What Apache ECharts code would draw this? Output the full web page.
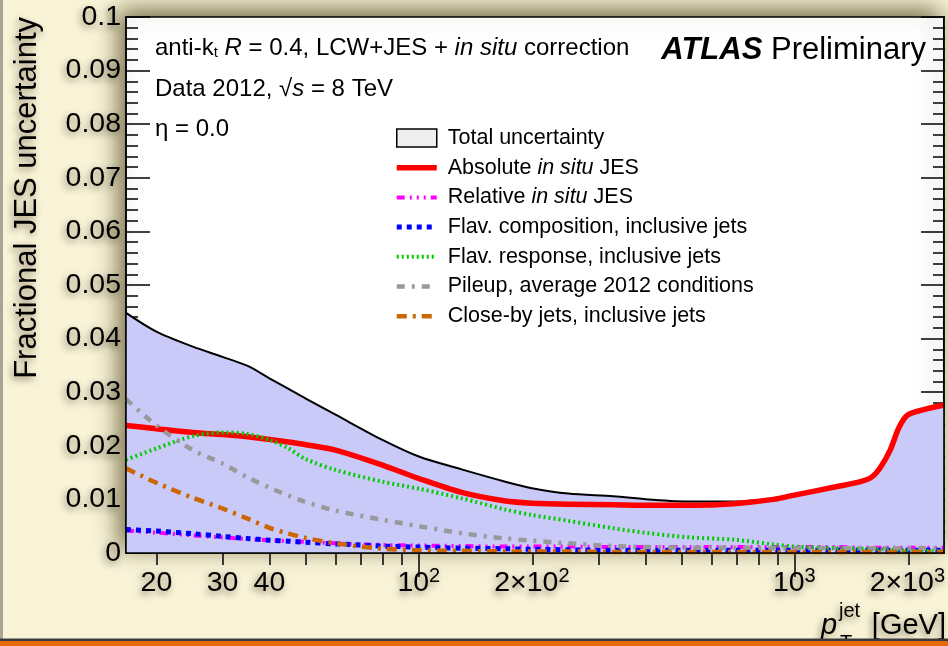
<!DOCTYPE html>
<html>
<head>
<meta charset="utf-8">
<script src="https://cdn.jsdelivr.net/npm/echarts@6/dist/echarts.min.js"></script>
<style>
  html, body { margin: 0; padding: 0; background: #f9f4d8; }
  #chart { width: 948px; height: 646px; }
</style>
</head>
<body>
<div id="chart"></div>
<script>
// Jet pT grid (GeV) shared by all uncertainty components
const pt = [16.6, 20, 25, 30, 35, 40, 45, 50, 60, 80, 100, 130, 170, 200, 250, 330, 410, 530, 690, 880, 1000, 1300, 1500, 1610, 1700, 1800, 1900, 2000, 2200, 2500];

const totalUnc   = [0.0448, 0.0413, 0.0385, 0.0366, 0.0349, 0.0326, 0.0306, 0.0288, 0.0258, 0.0211, 0.0180, 0.0156, 0.0133, 0.0121, 0.0111, 0.0106, 0.0100, 0.0096, 0.0096, 0.0102, 0.0109, 0.0125, 0.0134, 0.0143, 0.0162, 0.0193, 0.0235, 0.0258, 0.0268, 0.0278];
const absInSitu  = [0.0238, 0.0232, 0.0225, 0.0221, 0.0217, 0.0212, 0.0207, 0.0202, 0.0192, 0.0164, 0.0139, 0.0113, 0.0097, 0.0093, 0.0091, 0.0090, 0.0089, 0.0089, 0.0092, 0.0100, 0.0108, 0.0124, 0.0133, 0.0142, 0.0161, 0.0192, 0.0234, 0.0257, 0.0267, 0.0276];
const relInSitu  = [0.0042, 0.0038, 0.0033, 0.0029, 0.0026, 0.0024, 0.0022, 0.0021, 0.0018, 0.0015, 0.0014, 0.0013, 0.0012, 0.0012, 0.0012, 0.0011, 0.0011, 0.0011, 0.0011, 0.0011, 0.0011, 0.0011, 0.0010, 0.0010, 0.0010, 0.0010, 0.0010, 0.0010, 0.0010, 0.0010];
const flavComp   = [0.0044, 0.0041, 0.0036, 0.0031, 0.0027, 0.0024, 0.0022, 0.0020, 0.0017, 0.0013, 0.0011, 0.0009, 0.0008, 0.0007, 0.0006, 0.0005, 0.0005, 0.0005, 0.0005, 0.0005, 0.0005, 0.0005, 0.0005, 0.0005, 0.0005, 0.0005, 0.0005, 0.0005, 0.0005, 0.0005];
const flavResp   = [0.0174, 0.0195, 0.0218, 0.0225, 0.0222, 0.0211, 0.0195, 0.0175, 0.0155, 0.0133, 0.0120, 0.0102, 0.0081, 0.0071, 0.0060, 0.0046, 0.0037, 0.0029, 0.0025, 0.0016, 0.0012, 0.0009, 0.0008, 0.0007, 0.0007, 0.0006, 0.0006, 0.0005, 0.0004, 0.0003];
const pileup     = [0.0287, 0.0238, 0.0192, 0.0167, 0.0141, 0.0122, 0.0107, 0.0095, 0.0079, 0.0062, 0.0050, 0.0037, 0.0027, 0.0023, 0.0018, 0.0013, 0.0011, 0.0010, 0.0010, 0.0009, 0.0009, 0.0009, 0.0009, 0.0009, 0.0009, 0.0009, 0.0009, 0.0009, 0.0009, 0.0009];
const closeBy    = [0.0158, 0.0131, 0.0103, 0.0083, 0.0064, 0.0047, 0.0036, 0.0028, 0.0018, 0.0008, 0.0005, 0.0004, 0.0003, 0.0003, 0.0003, 0.0002, 0.0002, 0.0002, 0.0002, 0.0002, 0.0002, 0.0002, 0.0002, 0.0002, 0.0002, 0.0002, 0.0002, 0.0002, 0.0002, 0.0002];

const seriesNames = [
  'Total uncertainty',
  'Absolute in situ JES',
  'Relative in situ JES',
  'Flav. composition, inclusive jets',
  'Flav. response, inclusive jets',
  'Pileup, average 2012 conditions',
  'Close-by jets, inclusive jets'
];

// x tick labels (log axis), superscripts in rich-text tokens
const xTickValues = [20, 30, 40, 100, 200, 1000, 2000];
const xTickLabels = ['{b|20}', '{b|30}', '{b|40}', '{b|10}{s|2}', '{b|2×10}{s|2}', '{b|10}{s|3}', '{b|2×10}{s|3}'];
const xMajorTicks = [100, 1000];
const xMinorTicks = [20, 30, 40, 50, 60, 70, 80, 90, 200, 300, 400, 500, 600, 700, 800, 900, 2000];

const X_MIN = 16.6, X_MAX = 2500;
const FONT = 'Liberation Sans';
const shade = {
  textShadowColor: 'rgba(40,30,0,0.55)',
  textShadowBlur: 7,
  textShadowOffsetX: -2,
  textShadowOffsetY: 3
};

function pairs(vals) { return pt.map((p, i) => [p, vals[i]]); }

function lineSeries(name, vals, lineStyle, extra) {
  return Object.assign({
    name: name,
    type: 'line',
    data: pairs(vals),
    smooth: 0.3,
    symbol: 'none',
    showSymbol: false,
    silent: true,
    xAxisIndex: 0,
    yAxisIndex: 0,
    lineStyle: Object.assign({ cap: 'butt', join: 'round' }, lineStyle)
  }, extra || {});
}

const tickLine = { color: '#000', width: 1.5 };
const PLOT_BOX = { left: 126, right: 3, top: 17, bottom: 93 };
const logAxis = (gridIndex, position, extra) => Object.assign({
  type: 'log', logBase: 10, min: X_MIN, max: X_MAX, gridIndex: gridIndex, position: position,
  splitLine: { show: false }, axisLine: { show: false }, axisLabel: { show: false }, axisTick: { show: false }
}, extra);
const valAxis = (gridIndex, position, extra) => Object.assign({
  type: 'value', min: 0, max: 0.1, interval: 0.01, gridIndex: gridIndex, position: position,
  splitLine: { show: false }, axisLine: { show: false }, axisLabel: { show: false }, axisTick: { show: false }
}, extra);

const chart = echarts.init(document.getElementById('chart'));

chart.setOption({
  animation: false,
  backgroundColor: '#f9f4d8',
  grid: [
    Object.assign({
      show: true,
      backgroundColor: '#ffffff',
      borderColor: '#000',
      borderWidth: 1.5,
      shadowBlur: 22,
      shadowColor: 'rgba(70,60,20,0.75)',
      shadowOffsetX: -6,
      shadowOffsetY: -6
    }, PLOT_BOX),
    // second cartesian over the same box, carrying the fine tick marks
    Object.assign({ show: false }, PLOT_BOX)
  ],
  xAxis: [
    logAxis(0, 'bottom', {
      z: 5,
      axisLine: { show: true, lineStyle: tickLine },
      axisLabel: {
        show: true,
        customValues: xTickValues,
        margin: 13,
        formatter: function (v) {
          const i = xTickValues.findIndex(t => Math.abs(t - v) / t < 1e-6);
          return i >= 0 ? xTickLabels[i] : '';
        },
        rich: {
          b: Object.assign({ fontSize: 28.5, fontFamily: FONT, color: '#000', lineHeight: 34 }, shade),
          s: Object.assign({ fontSize: 20, fontFamily: FONT, color: '#000', lineHeight: 10, verticalAlign: 'top' }, shade)
        }
      }
    }),
    logAxis(0, 'top', {
      axisTick: { show: true, inside: true, length: 24, lineStyle: tickLine, customValues: xMajorTicks }
    }),
    logAxis(1, 'top', {
      axisTick: { show: true, inside: true, length: 12, lineStyle: tickLine, customValues: xMinorTicks }
    })
  ],
  yAxis: [
    valAxis(0, 'left', {
      z: 5,
      axisLine: { show: true, lineStyle: tickLine },
      axisLabel: Object.assign({ show: true, fontSize: 28.5, fontFamily: FONT, color: '#000', margin: 5 }, shade)
    }),
    valAxis(0, 'right', {
      z: 5,
      axisLine: { show: true, lineStyle: tickLine }
    }),
    valAxis(1, 'left', {
      axisTick: { show: true, inside: true, length: 24, lineStyle: tickLine },
      minorTick: { show: true, splitNumber: 5, length: 12, lineStyle: tickLine }
    }),
    valAxis(1, 'right', {
      axisTick: { show: true, inside: true, length: 24, lineStyle: tickLine },
      minorTick: { show: true, splitNumber: 5, length: 12, lineStyle: tickLine }
    })
  ],
  legend: {
    orient: 'vertical',
    left: 389, top: 122,
    itemWidth: 40, itemHeight: 18, itemGap: 7.7,
    selectedMode: false,
    itemStyle: { opacity: 0 },
    lineStyle: { width: 'inherit' },
    textStyle: {
      fontFamily: FONT, fontSize: 21.5, color: '#000', lineHeight: 18,
      rich: {
        g: { width: 6, fontSize: 21.5, lineHeight: 18 },
        n: { fontFamily: FONT, fontSize: 21.5, color: '#000', lineHeight: 18 },
        i: { fontFamily: FONT, fontSize: 21.5, color: '#000', lineHeight: 18, fontStyle: 'italic' }
      }
    },
    formatter: function (name) {
      const parts = name.split('in situ');
      return '{g| }' + parts.map(p => p ? '{n|' + p + '}' : '').join('{i|in situ}');
    },
    data: [
      { name: seriesNames[0], icon: 'rect', itemStyle: { color: '#eeeeee', borderColor: '#000', borderWidth: 1.5, opacity: 1 } },
      { name: seriesNames[1], lineStyle: { width: 5.5, type: 'solid' } },
      { name: seriesNames[2], lineStyle: { width: 4, type: [8, 5, 2, 5, 2, 5, 2, 5] } },
      { name: seriesNames[3], lineStyle: { width: 5, type: [5, 5] } },
      { name: seriesNames[4], lineStyle: { width: 4, type: [2, 3] } },
      { name: seriesNames[5], lineStyle: { width: 4.5, type: [8, 7, 3, 7] } },
      { name: seriesNames[6], lineStyle: { width: 4.5, type: [10, 6, 3, 6] } }
    ]
  },
  series: [
    lineSeries(seriesNames[0], totalUnc, { color: '#000', width: 2 }, {
      areaStyle: { color: '#cacaf8', opacity: 1 }, itemStyle: { color: '#eeeeee' }, z: 2
    }),
    lineSeries(seriesNames[1], absInSitu, { color: '#ff0000', width: 5.5 }, { itemStyle: { color: '#ff0000' }, z: 3 }),
    lineSeries(seriesNames[2], relInSitu, { color: '#ff00ff', width: 4, type: [8, 5, 2, 5, 2, 5, 2, 5] }, { itemStyle: { color: '#ff00ff' }, z: 3 }),
    lineSeries(seriesNames[3], flavComp, { color: '#0000ff', width: 5, type: [5, 5] }, { itemStyle: { color: '#0000ff' }, z: 3 }),
    lineSeries(seriesNames[4], flavResp, { color: '#00cc00', width: 4, type: [2, 3] }, { itemStyle: { color: '#00cc00' }, z: 3 }),
    lineSeries(seriesNames[5], pileup, { color: '#999999', width: 4.5, type: [8, 7, 3, 7] }, { itemStyle: { color: '#999999' }, z: 3 }),
    lineSeries(seriesNames[6], closeBy, { color: '#cc6600', width: 4.5, type: [10, 6, 3, 6] }, { itemStyle: { color: '#cc6600' }, z: 3 })
  ],
  graphic: [
    // header lines inside the frame
    {
      type: 'text', x: 155, y: 48.5, z: 10,
      style: {
        text: 'anti-k{sub|t} {i|R} = 0.4, LCW+JES + {i|in situ} correction',
        fontFamily: FONT, fontSize: 24, fill: '#000',
        align: 'left', verticalAlign: 'middle', textAlign: 'left', textVerticalAlign: 'middle',
        rich: {
          sub: { fontFamily: FONT, fontSize: 15, fill: '#000', verticalAlign: 'bottom', lineHeight: 12 },
          i: { fontFamily: FONT, fontSize: 24, fill: '#000', fontStyle: 'italic' }
        }
      }
    },
    {
      type: 'text', x: 155, y: 89, z: 10,
      style: {
        text: 'Data 2012, √{i|s} = 8 TeV',
        fontFamily: FONT, fontSize: 24, fill: '#000',
        align: 'left', verticalAlign: 'middle', textAlign: 'left', textVerticalAlign: 'middle',
        rich: { i: { fontFamily: FONT, fontSize: 24, fill: '#000', fontStyle: 'italic' } }
      }
    },
    {
      type: 'text', x: 155, y: 129, z: 10,
      style: {
        text: 'η = 0.0', fontFamily: FONT, fontSize: 24, fill: '#000',
        align: 'left', verticalAlign: 'middle', textAlign: 'left', textVerticalAlign: 'middle'
      }
    },
    {
      type: 'text', x: 926, y: 50, z: 10,
      style: {
        text: '{b|ATLAS} Preliminary',
        fontFamily: FONT, fontSize: 31, fill: '#000',
        align: 'right', verticalAlign: 'middle', textAlign: 'right', textVerticalAlign: 'middle',
        rich: { b: { fontFamily: FONT, fontSize: 31, fill: '#000', fontWeight: 'bold', fontStyle: 'italic' } }
      }
    },
    // y-axis title
    {
      type: 'text', x: 27, y: 17, rotation: Math.PI / 2, z: 10,
      style: Object.assign({
        text: 'Fractional JES uncertainty', fontFamily: FONT, fontSize: 31, fill: '#000',
        align: 'right', verticalAlign: 'middle', textAlign: 'right', textVerticalAlign: 'middle'
      }, shade)
    },
    // x-axis title: p_T^jet [GeV]
    {
      type: 'text', x: 821, y: 626, z: 10,
      style: Object.assign({ text: 'p', fontFamily: FONT, fontSize: 29, fontStyle: 'italic', fill: '#000', align: 'left', verticalAlign: 'middle', textAlign: 'left', textVerticalAlign: 'middle' }, shade)
    },
    {
      type: 'text', x: 839, y: 611, z: 10,
      style: Object.assign({ text: 'jet', fontFamily: FONT, fontSize: 20, fill: '#000', align: 'left', verticalAlign: 'middle', textAlign: 'left', textVerticalAlign: 'middle' }, shade)
    },
    {
      type: 'text', x: 840, y: 643, z: 10,
      style: Object.assign({ text: 'T', fontFamily: FONT, fontSize: 20, fill: '#000', align: 'left', verticalAlign: 'middle', textAlign: 'left', textVerticalAlign: 'middle' }, shade)
    },
    {
      type: 'text', x: 946, y: 626, z: 10,
      style: Object.assign({ text: '[GeV]', fontFamily: FONT, fontSize: 29, fill: '#000', align: 'right', verticalAlign: 'middle', textAlign: 'right', textVerticalAlign: 'middle' }, shade)
    },
    // page frame: left edge strip and bottom band
    { type: 'rect', z: 20, shape: { x: 0, y: 0, width: 3, height: 640 }, style: { fill: '#a8a596' } },
    { type: 'rect', z: 20, shape: { x: 0, y: 638.5, width: 948, height: 2.5 }, style: { fill: '#3a3a3a' } },
    { type: 'rect', z: 20, shape: { x: 0, y: 641, width: 948, height: 5 }, style: { fill: '#e8680a' } }
  ]
});
</script>
</body>
</html>
